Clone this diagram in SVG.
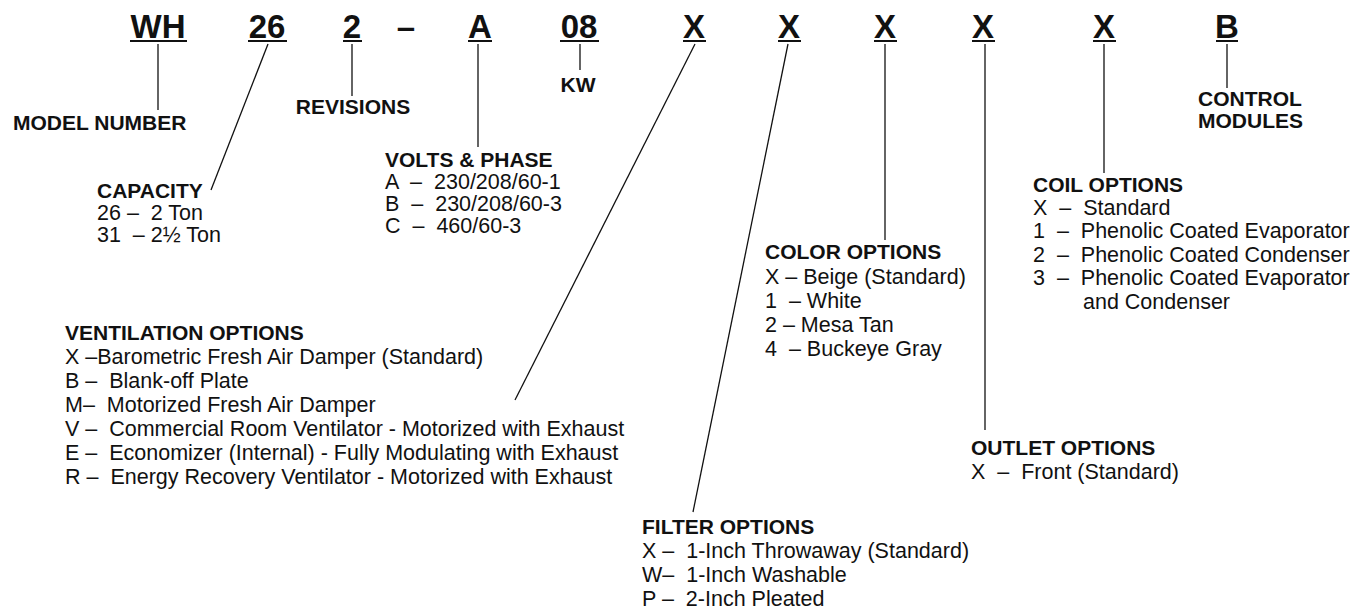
<svg xmlns="http://www.w3.org/2000/svg" width="1365" height="612" viewBox="0 0 1365 612">
<style>
text{font-family:"Liberation Sans",Arial,sans-serif;fill:#111;white-space:pre}
.code{font-size:33px;font-weight:bold;text-anchor:middle}
.h{font-size:21px;font-weight:bold}
.t{font-size:21.5px}
.m{text-anchor:middle}
.ul{stroke:#111;stroke-width:2}
.c line{stroke:#111;stroke-width:1.3;fill:none}
</style>
<rect width="1365" height="612" fill="#fff"/>
<g id="codes">
<text class="code" x="158" y="38">WH</text><line class="ul" x1="130" y1="41" x2="187" y2="41"/>
<text class="code" x="267" y="38">26</text><line class="ul" x1="248" y1="41" x2="287" y2="41"/>
<text class="code" x="352" y="38">2</text><line class="ul" x1="343" y1="41" x2="362" y2="41"/>
<text class="code" x="406" y="38">–</text>
<text class="code" x="480" y="38">A</text><line class="ul" x1="468" y1="41" x2="492" y2="41"/>
<text class="code" x="579" y="38">08</text><line class="ul" x1="560" y1="41" x2="599" y2="41"/>
<text class="code" x="694" y="38">X</text><line class="ul" x1="683" y1="41" x2="706" y2="41"/>
<text class="code" x="789" y="38">X</text><line class="ul" x1="778" y1="41" x2="801" y2="41"/>
<text class="code" x="885" y="38">X</text><line class="ul" x1="874" y1="41" x2="897" y2="41"/>
<text class="code" x="983" y="38">X</text><line class="ul" x1="972" y1="41" x2="995" y2="41"/>
<text class="code" x="1104" y="38">X</text><line class="ul" x1="1093" y1="41" x2="1116" y2="41"/>
<text class="code" x="1227" y="38">B</text><line class="ul" x1="1216" y1="41" x2="1238" y2="41"/>
</g>
<g id="connectors" class="c">
<line x1="158" y1="44" x2="158" y2="110"/>
<line x1="268" y1="44" x2="211" y2="190"/>
<line x1="352" y1="44" x2="352" y2="96"/>
<line x1="478" y1="44" x2="478" y2="147"/>
<line x1="580" y1="44" x2="580" y2="70"/>
<line x1="695" y1="44" x2="515" y2="400"/>
<line x1="788" y1="44" x2="693" y2="512"/>
<line x1="885" y1="44" x2="885" y2="240"/>
<line x1="985" y1="44" x2="985" y2="430"/>
<line x1="1104" y1="44" x2="1104" y2="173"/>
<line x1="1227" y1="44" x2="1227" y2="88"/>
</g>
<g id="model-number"><text class="h" x="13" y="130">MODEL NUMBER</text></g>
<g id="revisions"><text class="h m" x="353" y="114">REVISIONS</text></g>
<g id="kw"><text class="h m" x="578" y="92">KW</text></g>
<g id="control-modules"><text class="h" x="1198" y="106">CONTROL</text><text class="h" x="1198" y="128">MODULES</text></g>
<g id="capacity">
<text class="h" x="97" y="198">CAPACITY</text>
<text class="t" x="97" y="220">26 –  2 Ton</text>
<text class="t" x="97" y="242">31  – 2½ Ton</text>
</g>
<g id="volts-phase">
<text class="h" x="385" y="167">VOLTS &amp; PHASE</text>
<text class="t" x="385" y="189">A  –  230/208/60-1</text>
<text class="t" x="385" y="211">B  –  230/208/60-3</text>
<text class="t" x="385" y="233">C  –  460/60-3</text>
</g>
<g id="coil-options">
<text class="h" x="1033" y="192">COIL OPTIONS</text>
<text class="t" x="1033" y="215">X  –  Standard</text>
<text class="t" x="1033" y="238">1  –  Phenolic Coated Evaporator</text>
<text class="t" x="1033" y="262">2  –  Phenolic Coated Condenser</text>
<text class="t" x="1033" y="285">3  –  Phenolic Coated Evaporator</text>
<text class="t" x="1083" y="309">and Condenser</text>
</g>
<g id="color-options">
<text class="h" x="765" y="259">COLOR OPTIONS</text>
<text class="t" x="765" y="284">X – Beige (Standard)</text>
<text class="t" x="765" y="308">1  – White</text>
<text class="t" x="765" y="332">2 – Mesa Tan</text>
<text class="t" x="765" y="356">4  – Buckeye Gray</text>
</g>
<g id="ventilation-options">
<text class="h" x="65" y="340">VENTILATION OPTIONS</text>
<text class="t" x="65" y="364">X –Barometric Fresh Air Damper (Standard)</text>
<text class="t" x="65" y="388">B –  Blank-off Plate</text>
<text class="t" x="65" y="412">M–  Motorized Fresh Air Damper</text>
<text class="t" x="65" y="436">V –  Commercial Room Ventilator - Motorized with Exhaust</text>
<text class="t" x="65" y="460">E –  Economizer (Internal) - Fully Modulating with Exhaust</text>
<text class="t" x="65" y="484">R –  Energy Recovery Ventilator - Motorized with Exhaust</text>
</g>
<g id="outlet-options">
<text class="h" x="971" y="455">OUTLET OPTIONS</text>
<text class="t" x="971" y="479">X  –  Front (Standard)</text>
</g>
<g id="filter-options">
<text class="h" x="642" y="534">FILTER OPTIONS</text>
<text class="t" x="642" y="558">X –  1-Inch Throwaway (Standard)</text>
<text class="t" x="642" y="582">W–  1-Inch Washable</text>
<text class="t" x="642" y="606">P –  2-Inch Pleated</text>
</g>
</svg>
